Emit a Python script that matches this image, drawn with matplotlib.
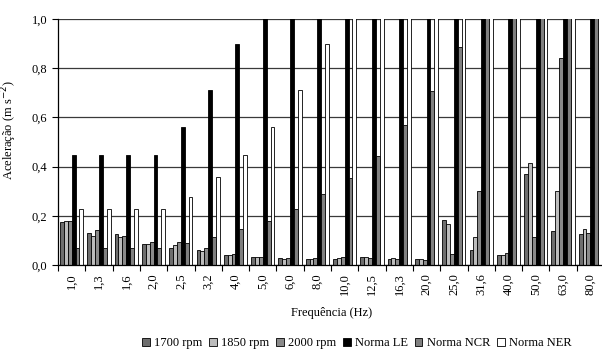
import matplotlib.pyplot as plt
import numpy as np

plt.rcParams['font.family'] = ['Liberation Serif', 'DejaVu Serif']

frequencias = ['1,0', '1,3', '1,6', '2,0', '2,5', '3,2', '4,0', '5,0', '6,0', '8,0',
               '10,0', '12,5', '16,3', '20,0', '25,0', '31,6', '40,0', '50,0', '63,0', '80,0']

rpm1700 = [0.176, 0.131, 0.126, 0.084, 0.070, 0.062, 0.039, 0.031, 0.027, 0.024,
           0.024, 0.031, 0.024, 0.023, 0.183, 0.061, 0.039, 0.370, 0.137, 0.126]
rpm1850 = [0.180, 0.118, 0.112, 0.084, 0.080, 0.057, 0.039, 0.031, 0.024, 0.024,
           0.027, 0.031, 0.027, 0.023, 0.165, 0.112, 0.039, 0.413, 0.300, 0.145]
rpm2000 = [0.180, 0.142, 0.118, 0.092, 0.092, 0.070, 0.045, 0.031, 0.027, 0.027,
           0.031, 0.027, 0.024, 0.019, 0.043, 0.300, 0.047, 0.112, 0.840, 0.131]
norma_le = [0.447, 0.447, 0.447, 0.447, 0.561, 0.710, 0.900, 1.12, 1.40, 1.80,
            2.24, 2.80, 3.60, 4.50, 5.60, 7.10, 9.00, 11.2, 14.0, 18.0]
norma_ncr = [0.070, 0.070, 0.070, 0.070, 0.088, 0.112, 0.145, 0.179, 0.226, 0.287,
             0.352, 0.444, 0.569, 0.709, 0.886, 1.12, 1.42, 1.77, 2.26, 2.83]
norma_ner = [0.226, 0.226, 0.226, 0.226, 0.278, 0.356, 0.447, 0.561, 0.710, 0.900,
             1.12, 1.40, 1.80, 2.24, 2.80, 3.60, 4.50, 5.60, 7.10, 9.00]

series = [rpm1700, rpm1850, rpm2000, norma_le, norma_ncr, norma_ner]
nomes = ['1700 rpm', '1850 rpm', '2000 rpm', 'Norma LE', 'Norma NCR', 'Norma NER']
cores = ['#6e6e6e', '#bcbcbc', '#8a8a8a', '#000000', '#808080', '#ffffff']

fig = plt.figure(figsize=(6.02, 3.53), dpi=100)
ax = fig.add_axes([58 / 602, 88 / 353, 546 / 602, 246 / 353])

x = np.arange(len(frequencias))
w = 0.142
for i, (vals, nome, cor) in enumerate(zip(series, nomes, cores)):
    ax.bar(x + (i - 2.5) * w, vals, w, color=cor, edgecolor='black',
           linewidth=0.6, label=nome)

ax.set_ylim(0, 1.0)
ax.set_xlim(-0.5, len(frequencias) - 0.5)
ax.set_yticks(np.arange(0, 1.01, 0.2))
ax.set_yticklabels(['0,0', '0,2', '0,4', '0,6', '0,8', '1,0'], fontsize=9)
ax.yaxis.grid(True, color='#3a3a3a', linewidth=0.9)
ax.set_axisbelow(True)

# ticks entre categorias, rotulos no centro
ax.set_xticks(np.arange(-0.5, len(frequencias), 1))
ax.set_xticklabels([])
ax.set_xticks(x, minor=True)
ax.set_xticklabels(frequencias, minor=True, rotation=90, fontsize=9)
ax.tick_params(axis='x', which='major', length=4, width=0.8)
ax.tick_params(axis='x', which='minor', length=0, pad=6)
ax.tick_params(axis='y', length=4, width=0.8)

for s in ['top', 'right']:
    ax.spines[s].set_visible(False)
ax.spines['left'].set_linewidth(0.9)
ax.spines['bottom'].set_linewidth(0.9)

ax.set_ylabel('Aceleração (m s$^{-2}$)', fontsize=9, labelpad=7)
ax.yaxis.set_label_coords(-0.072, 0.55)
fig.text(332 / 602, 1 - 313 / 353, 'Frequência (Hz)', fontsize=9,
         ha='center', va='center')

fig.legend(loc='center', bbox_to_anchor=(357 / 602, 1 - 343 / 353), ncol=6,
           fontsize=9, frameon=False, handlelength=0.6, handleheight=0.6,
           handletextpad=0.35, columnspacing=0.55)

fig.savefig('out.png', dpi=100)
